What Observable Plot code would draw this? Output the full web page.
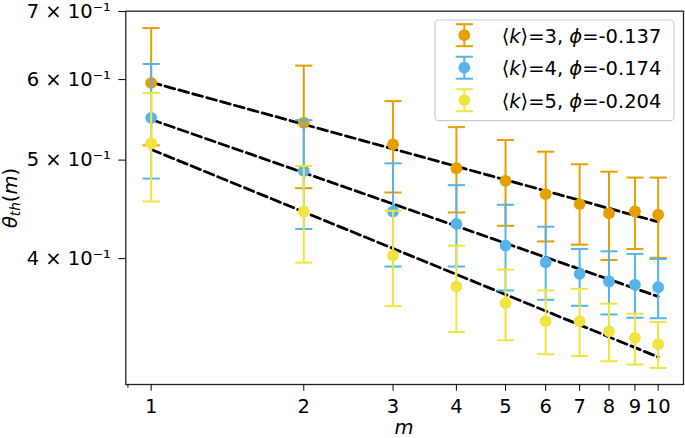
<!DOCTYPE html>
<html>
<head>
<meta charset="utf-8">
<script src="https://cdn.jsdelivr.net/npm/d3@7"></script>
<script src="https://cdn.jsdelivr.net/npm/@observablehq/plot@0.6"></script>
<style>
  html, body { margin: 0; padding: 0; background: #fff; }
  #chart svg { display: block; }
</style>
</head>
<body>
<div id="chart"></div>
<script>
// ---- data ----
const mValues = [1, 2, 3, 4, 5, 6, 7, 8, 9, 10];

const seriesK = [3, 4, 5];
const seriesPhi = ["-0.137", "-0.174", "-0.204"];
const seriesColors = ["#E69F00", "#56B4E9", "#F0E442"];

const k3Mean = [0.5955, 0.5441, 0.5182, 0.4909, 0.4770, 0.4629, 0.4526, 0.4431, 0.4451, 0.4418];
const k3Low  = [0.5170, 0.4692, 0.4646, 0.4441, 0.4309, 0.4159, 0.4129, 0.3988, 0.4089, 0.4007];
const k3High = [0.6742, 0.6193, 0.5714, 0.5388, 0.5233, 0.5096, 0.4953, 0.4871, 0.4806, 0.4806];

const k4Mean = [0.5502, 0.4879, 0.4451, 0.4327, 0.4119, 0.3967, 0.3864, 0.3798, 0.3770, 0.3749];
const k4Low  = [0.4795, 0.4278, 0.3929, 0.3929, 0.3722, 0.3644, 0.3595, 0.3525, 0.3499, 0.3495];
const k4High = [0.6216, 0.5474, 0.4964, 0.4724, 0.4519, 0.4300, 0.4089, 0.4067, 0.4043, 0.3997];

const k5Mean = [0.5194, 0.4451, 0.4027, 0.3755, 0.3617, 0.3472, 0.3472, 0.3393, 0.3342, 0.3295];
const k5Low  = [0.4553, 0.3964, 0.3592, 0.3387, 0.3325, 0.3221, 0.3209, 0.3171, 0.3147, 0.3123];
const k5High = [0.5822, 0.4934, 0.4458, 0.4119, 0.3902, 0.3722, 0.3736, 0.3612, 0.3531, 0.3465];

// dashed power-law fits: values at m = 1 and m = 10
const fitM = [1, 10];
const k3Fit = [0.5963, 0.4347];
const k4Fit = [0.5482, 0.3671];
const k5Fit = [0.5122, 0.3201];

const xTicks = [1, 2, 3, 4, 5, 6, 7, 8, 9, 10];
const xMinorTicks = [0.9];
const yTicks = [0.4, 0.5, 0.6, 0.7];
const yTickLabels = ["4 × 10⁻¹", "5 × 10⁻¹", "6 × 10⁻¹", "7 × 10⁻¹"];

// ---- build tables ----
const means = [k3Mean, k4Mean, k5Mean];
const lows = [k3Low, k4Low, k5Low];
const highs = [k3High, k4High, k5High];
const fits = [k3Fit, k4Fit, k5Fit];

const seriesRows = seriesK.map((k, s) =>
  mValues.map((m, i) => ({m, v: means[s][i], lo: lows[s][i], hi: highs[s][i], k}))
);
const fitRows = seriesK.flatMap((k, s) => fitM.map((m, i) => ({m, v: fits[s][i], k})));

const capSymbol = {
  draw(ctx, size) {
    const r = Math.sqrt(size / Math.PI);
    ctx.moveTo(-r, 0);
    ctx.lineTo(r, 0);
  }
};

const FS = 19.5;
const marks = [
  Plot.line(fitRows, {x: "m", y: "v", z: "k", stroke: "#000", strokeWidth: 2.8, strokeDasharray: "10,4.4"})
];
seriesRows.forEach((rows, s) => {
  const c = seriesColors[s];
  marks.push(
    Plot.ruleX(rows, {x: "m", y1: "lo", y2: "hi", stroke: c, strokeWidth: 2}),
    Plot.dot(rows, {x: "m", y: "lo", symbol: capSymbol, r: 8.6, stroke: c, strokeWidth: 2, fill: "none"}),
    Plot.dot(rows, {x: "m", y: "hi", symbol: capSymbol, r: 8.6, stroke: c, strokeWidth: 2, fill: "none"}),
    Plot.dot(rows, {x: "m", y: "v", r: 5.9, fill: c, stroke: "none"})
  );
});
marks.push(
  Plot.frame({stroke: "#222", strokeWidth: 1.3}),
  Plot.axisX({ticks: xTicks, tickFormat: d => String(d), tickSize: 6.7, tickPadding: 7.5, label: null, fontSize: FS}),
  Plot.axisX({ticks: xMinorTicks, tickFormat: () => "", tickSize: 3.6, label: null}),
  Plot.axisY({ticks: yTicks, tickFormat: d => yTickLabels[yTicks.indexOf(d)], tickSize: 7, tickPadding: 8, label: null, fontSize: FS})
);

const plot = Plot.plot({
  width: 685,
  height: 438,
  marginLeft: 125.3,
  marginRight: 2,
  marginTop: 10.7,
  marginBottom: 54,
  style: {fontFamily: "'DejaVu Sans', sans-serif", fontSize: FS + "px", background: "#fff", color: "#000"},
  x: {type: "log", domain: [Math.pow(10, -0.05), Math.pow(10, 1.05)]},
  y: {type: "log", domain: [0.3008, 0.7005]},
  marks
});

document.getElementById("chart").appendChild(plot);

// ---- axis labels and legend ----
const svg = d3.select(plot);
const font = "'DejaVu Sans', sans-serif";

// x label
svg.append("text")
  .attr("x", 404).attr("y", 434)
  .attr("text-anchor", "middle")
  .attr("font-family", font).attr("font-size", FS)
  .attr("font-style", "italic")
  .text("m");

// y label θ_th(m)
const yl = svg.append("text")
  .attr("transform", "translate(16.7,198) rotate(-90)")
  .attr("text-anchor", "middle")
  .attr("font-family", font).attr("font-size", FS);
yl.append("tspan").attr("font-style", "italic").text("θ");
yl.append("tspan").attr("font-style", "italic").attr("font-size", FS * 0.7).attr("dy", 3).text("th");
yl.append("tspan").attr("dy", -3).text("(");
yl.append("tspan").attr("font-style", "italic").text("m");
yl.append("tspan").text(")");

// legend
const lg = svg.append("g").attr("text-anchor", "start");
lg.append("rect")
  .attr("x", 435).attr("y", 20).attr("width", 239).attr("height", 100.7)
  .attr("rx", 4).attr("fill", "#fff").attr("fill-opacity", 0.8)
  .attr("stroke", "#cccccc").attr("stroke-width", 1.2);
const rowY = [35.2, 67.7, 100.2];
seriesK.forEach((k, s) => {
  const y = rowY[s], x = 464.3, c = seriesColors[s];
  lg.append("line").attr("x1", x).attr("x2", x).attr("y1", y - 11).attr("y2", y + 11)
    .attr("stroke", c).attr("stroke-width", 2);
  [y - 11, y + 11].forEach(yy => lg.append("line")
    .attr("x1", x - 8.6).attr("x2", x + 8.6).attr("y1", yy).attr("y2", yy)
    .attr("stroke", c).attr("stroke-width", 2));
  lg.append("circle").attr("cx", x).attr("cy", y).attr("r", 5.9).attr("fill", c);
  const t = lg.append("text").attr("x", 501.7).attr("y", y + 7.6)
    .attr("text-anchor", "start")
    .attr("font-family", font).attr("font-size", FS).attr("fill", "#000");
  t.append("tspan").text("⟨");
  t.append("tspan").attr("font-style", "italic").text("k");
  t.append("tspan").text("⟩=" + k + ", ");
  t.append("tspan").attr("font-style", "italic").text("ϕ");
  t.append("tspan").text("=" + seriesPhi[s]);
});
</script>
</body>
</html>
